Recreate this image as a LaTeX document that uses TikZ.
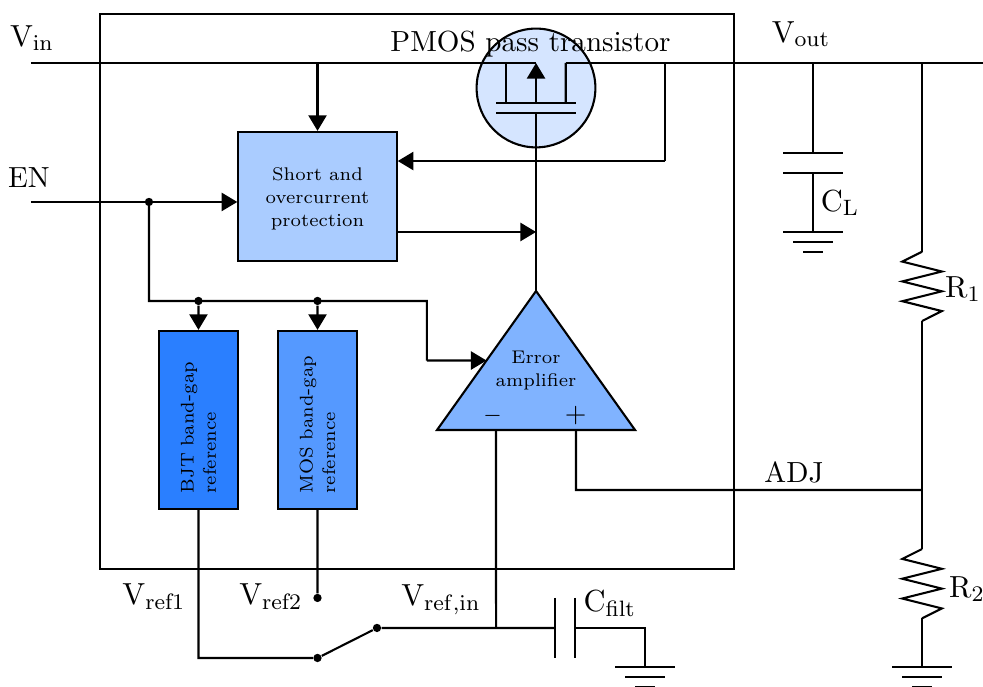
\documentclass[tikz,border=0pt]{standalone}
\usetikzlibrary{arrows.meta}
\definecolor{circfill}{HTML}{D5E5FF}
\definecolor{protfill}{HTML}{AACCFF}
\definecolor{ampfill}{HTML}{80B3FF}
\definecolor{mosfill}{HTML}{5599FF}
\definecolor{bjtfill}{HTML}{2A7FFF}
\tikzset{
	wire/.style={black,line width=0.75pt,line join=miter},
	arrowwire/.style={wire,-{Triangle[length=5.6pt,width=6.5pt]}},
	smalltext/.style={align=center,font=\fontsize{6.6}{8.1}\selectfont},
	blockbox/.style={draw=black,line width=0.75pt},
	refbox/.style={blockbox,minimum width=2.25cm,minimum height=1cm,text width=1.85cm,rotate=90,align=left,font=\fontsize{6.6}{8}\selectfont},
	junction/.style={circle,fill=black,minimum size=1.05mm},
	symlabel/.style={font=\fontsize{11}{13}\selectfont}
}
\begin{document}
\begin{tikzpicture}[scale=0.1]
	\tikzstyle{every node}+=[inner sep=0pt,font=\fontsize{10.45}{12.5}\selectfont]
	\useasboundingbox (0,0) rectangle (124.12,-86.74);

	\coordinate (vin) at (3.91,-7.95);
	\coordinate (vtop) at (67.68,-7.95);
	\coordinate (vright) at (71.43,-7.95);
	\coordinate (vend) at (124.12,-7.95);
	\coordinate (vprot) at (40.09,-7.95);
	\coordinate (vfb) at (83.97,-7.95);
	\coordinate (fb) at (83.97,-20.33);
	\coordinate (vcl) at (102.65,-7.95);
	\coordinate (vr) at (116.42,-7.95);

	\draw [wire] (12.63,-1.77) rectangle (92.68,-71.84);

	% pass transistor
	\node [circle,draw=black,line width=0.75pt,fill=circfill,minimum size=1.5cm] (pass) at (67.68,-11.11) {};
	\coordinate (chl) at (62.68,-12.97);
	\coordinate (chr) at (72.68,-12.97);
	\coordinate (chm) at (67.68,-12.97);
	\coordinate (gl) at (62.68,-14.23);
	\coordinate (gr) at (72.68,-14.23);
	\coordinate (gm) at (67.68,-14.23);
	\draw [wire] (vin) -- (vtop);
	\draw [wire] (vright) -- (vend);
	\draw [wire] (chl) -- (chr);
	\draw [wire] (gl) -- (gr);
	\draw [wire] (63.93,-7.95) -- (63.93,-12.97);
	\draw [wire] (vright) -- (71.43,-12.97);
	\draw [arrowwire] (chm) -- (vtop);
	\node (pmoslabel) at (66.98,-5.56) {PMOS pass transistor};
	\node [symlabel] (vinlabel) at (4.04,-4.8) {$\mathrm{V_{in}}$};
	\node [symlabel] (voutlabel) at (101.14,-4.29) {$\mathrm{V_{out}}$};

	% protection
	\node [blockbox,fill=protfill,minimum width=2cm,minimum height=1.63cm] (prot) at (40.09,-24.81) {};
	\node [smalltext] (prottext) at (40.09,-25.1) {Short and\\overcurrent\\protection};
	\coordinate (en) at (3.91,-25.5);
	\coordinate (enj) at (18.81,-25.5);
	\coordinate (protout) at (67.68,-29.29);
	\node (enlabel) at (3.66,-22.47) {EN};
	\draw [arrowwire] (vprot) -- (prot.north);
	\draw [wire] (vfb) -- (fb);
	\draw [arrowwire] (fb) -- (prot.east |- fb);
	\draw [arrowwire] (prot.east |- protout) -- (protout);
	\draw [arrowwire] (en) -- (prot.west |- en);
	\node [junction] (endot) at (enj) {};

	% references
	\node [refbox,fill=bjtfill] (bjt) at (25.06,-53.03) {BJT band-gap\\reference};
	\node [refbox,fill=mosfill] (mos) at (40.09,-53.03) {MOS band-gap\\reference};
	\coordinate (bus) at (18.81,-38);
	\coordinate (busr) at (53.9,-38);
	\coordinate (ampin) at (61.43,-45.52);
	\node [junction] (bjtdot) at (25.06,-38) {};
	\node [junction] (mosdot) at (40.09,-38) {};
	\draw [wire] (enj) -- (bus) -- (busr) -- (53.9,-45.52);
	\draw [arrowwire] (53.9,-45.52) -- (ampin);
	\draw [arrowwire] (bjtdot) -- (bjt.east);
	\draw [arrowwire] (mosdot) -- (mos.east);

	% amplifier
	\coordinate (ampt) at (67.68,-36.74);
	\coordinate (ampl) at (55.18,-54.29);
	\coordinate (ampr) at (80.18,-54.29);
	\draw [wire] (gm) -- (ampt);
	\draw [wire,fill=ampfill] (ampt) -- (ampl) -- (ampr) -- cycle;
	\node [smalltext] (amptext) at (67.68,-46.8) {Error\\amplifier};
	\node [font=\footnotesize] (minuslabel) at (62.2,-52.5) {$-$};
	\node (pluslabel) at (72.7,-52.5) {$+$};

	% switch
	\coordinate (sw1) at (25.06,-83.08);
	\node [junction] (swa) at (40.09,-83.08) {};
	\node [junction] (swb) at (40.09,-75.5) {};
	\node [junction] (swc) at (47.6,-79.29) {};
	\coordinate (capl) at (70.08,-79.29);
	\coordinate (capr) at (72.6,-79.29);
	\coordinate (minusj) at (62.63,-79.29);
	\coordinate (cfg) at (81.44,-79.29);
	\coordinate (cfgnd) at (81.44,-84.22);
	\draw [wire] (bjt.west) -- (sw1) -- (swa) -- (swc) -- (capl);
	\draw [wire] (mos.west) -- (swb);
	\draw [wire] (62.63,-54.29) -- (minusj);
	\draw [wire] (70.08,-75.5) -- (70.08,-83.08);
	\draw [wire] (72.6,-75.5) -- (72.6,-83.08);
	\draw [wire] (capr) -- (cfg) -- (cfgnd);
	\draw [wire] (cfgnd) ++(-3.75,0) -- ++(7.5,0);
	\draw [wire] (cfgnd) ++(-2.5,-1.26) -- ++(5,0);
	\draw [wire] (cfgnd) ++(-1.25,-2.52) -- ++(2.5,0);
	\node [symlabel] (vref1label) at (19.44,-75.38) {$\mathrm{V_{ref1}}$};
	\node [symlabel] (vref2label) at (34.2,-75.38) {$\mathrm{V_{ref2}}$};
	\node [symlabel] (vrefinlabel) at (55.68,-75.76) {$\mathrm{V_{ref,in}}$};
	\node [symlabel] (cfiltlabel) at (77,-76.26) {$\mathrm{C_{filt}}$};

	% load capacitor
	\coordinate (cla) at (102.65,-19.32);
	\coordinate (clb) at (102.65,-21.84);
	\coordinate (clgnd) at (102.65,-29.29);
	\draw [wire] (vcl) -- (cla);
	\draw [wire] (clb) -- (clgnd);
	\draw [wire] (cla) ++(-3.75,0) -- ++(7.5,0);
	\draw [wire] (clb) ++(-3.75,0) -- ++(7.5,0);
	\draw [wire] (clgnd) ++(-3.75,0) -- ++(7.5,0);
	\draw [wire] (clgnd) ++(-2.5,-1.26) -- ++(5,0);
	\draw [wire] (clgnd) ++(-1.25,-2.52) -- ++(2.5,0);
	\node [symlabel] (cllabel) at (106.06,-25.63) {$\mathrm{C_L}$};

	% divider
	\coordinate (r1a) at (116.42,-31.78);
	\coordinate (r1b) at (116.42,-40.53);
	\coordinate (r2a) at (116.42,-69.32);
	\coordinate (r2b) at (116.42,-78.07);
	\coordinate (rgnd) at (116.42,-84.22);
	\coordinate (adj) at (116.42,-61.87);
	\draw [wire] (vr) -- (r1a);
	\draw [wire] (r1a) -- ++(-2.5,-1.25) -- ++(5,-1.25) -- ++(-5,-1.25) -- ++(5,-1.25) -- ++(-5,-1.25) -- ++(5,-1.25) -- (r1b);
	\draw [wire] (r1b) -- (r2a);
	\draw [wire] (r2a) -- ++(-2.5,-1.25) -- ++(5,-1.25) -- ++(-5,-1.25) -- ++(5,-1.25) -- ++(-5,-1.25) -- ++(5,-1.25) -- (r2b);
	\draw [wire] (r2b) -- (rgnd);
	\draw [wire] (rgnd) ++(-3.75,0) -- ++(7.5,0);
	\draw [wire] (rgnd) ++(-2.5,-1.26) -- ++(5,0);
	\draw [wire] (rgnd) ++(-1.25,-2.52) -- ++(2.5,0);
	\draw [wire] (72.73,-54.29) -- (72.73,-61.87) -- (adj);
	\node [symlabel] (r1label) at (121.6,-36.49) {$\mathrm{R_1}$};
	\node [symlabel] (r2label) at (122.1,-74.37) {$\mathrm{R_2}$};
	\node (adjlabel) at (100.25,-59.6) {ADJ};
\end{tikzpicture}
\end{document}
